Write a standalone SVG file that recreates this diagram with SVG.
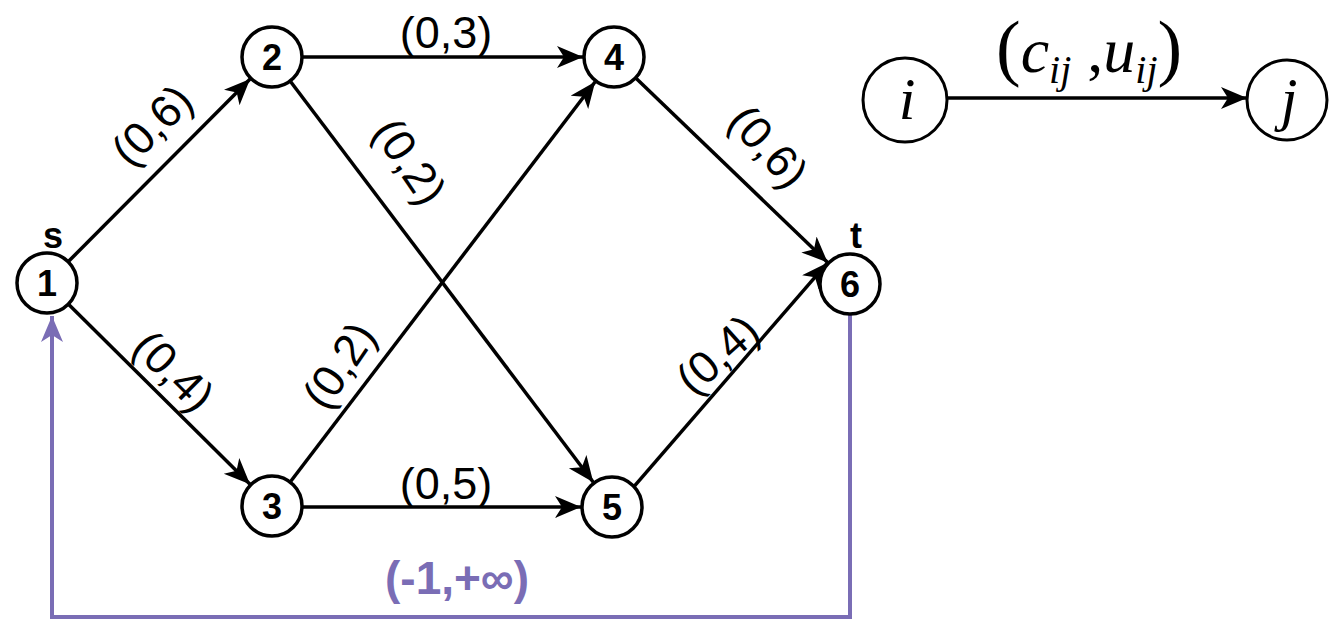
<svg xmlns="http://www.w3.org/2000/svg" width="1336" height="624" viewBox="0 0 1336 624">
<style>
.nd{fill:#fff;stroke:#000;stroke-width:3.5}
.num{font-family:"Liberation Sans",Arial,sans-serif;font-weight:bold;font-size:36px;text-anchor:middle}
.lbl{font-family:"Liberation Sans",Arial,sans-serif;font-size:45px;text-anchor:middle}
.ed{fill:none;stroke:#000;stroke-width:3.5}
.it{font-family:"Liberation Serif","Times New Roman",serif;font-style:italic}
</style>
<defs>
<marker id="ah" markerUnits="userSpaceOnUse" markerWidth="28" markerHeight="24" refX="26" refY="11" orient="auto" viewBox="0 0 28 24">
<path d="M0,0 L26,11 L0,22 L7,11 Z" fill="#000"/>
</marker>
<marker id="ahp" markerUnits="userSpaceOnUse" markerWidth="28" markerHeight="24" refX="26" refY="11" orient="auto" viewBox="0 0 28 24">
<path d="M0,0 L26,11 L0,22 L7,11 Z" fill="#7a6db5"/>
</marker>
</defs>
<rect width="1336" height="624" fill="#fff"/>
<g id="connectors">
<line class="ed" x1="68.9" y1="261" x2="250.1" y2="79" marker-end="url(#ah)"/>
<line class="ed" x1="69" y1="304.8" x2="250" y2="484.2" marker-end="url(#ah)"/>
<line class="ed" x1="303" y1="57" x2="583" y2="57" marker-end="url(#ah)"/>
<line class="ed" x1="290.7" y1="81.7" x2="593.3" y2="482.3" marker-end="url(#ah)"/>
<line class="ed" x1="290.8" y1="481.3" x2="595.2" y2="81.7" marker-end="url(#ah)"/>
<line class="ed" x1="303" y1="507" x2="581" y2="507" marker-end="url(#ah)"/>
<line class="ed" x1="636.3" y1="78.5" x2="827.7" y2="262.5" marker-end="url(#ah)"/>
<line class="ed" x1="634.6" y1="485.8" x2="827.4" y2="262.8" marker-end="url(#ah)"/>
<path d="M850,315 V617 H52 V316" fill="none" stroke="#7a6db5" stroke-width="4" marker-end="url(#ahp)"/>
<line class="ed" x1="947" y1="98" x2="1247" y2="98" marker-end="url(#ah)"/>
<text class="lbl" transform="translate(163,136) rotate(-45)">(0,6)</text>
<text class="lbl" transform="translate(163,382) rotate(45)">(0,4)</text>
<text class="lbl" x="446" y="48">(0,3)</text>
<text class="lbl" transform="translate(397,170) rotate(56)">(0,2)</text>
<text class="lbl" transform="translate(352,374) rotate(-56)">(0,2)</text>
<text class="lbl" x="446" y="499">(0,5)</text>
<text class="lbl" transform="translate(757,157) rotate(48)">(0,6)</text>
<text class="lbl" transform="translate(728,366) rotate(-42)">(0,4)</text>
<text x="457" y="594" font-family="Liberation Sans,Arial,sans-serif" font-weight="bold" font-size="46" fill="#7a6db5" text-anchor="middle">(-1,+∞)</text>
<text x="996" y="72" font-family="Liberation Serif,Times New Roman,serif" font-size="64"><tspan font-size="74">(</tspan><tspan class="it">c</tspan><tspan class="it" font-size="40" dy="11">ij</tspan><tspan dy="-11"> ,</tspan><tspan class="it">u</tspan><tspan class="it" font-size="40" dy="11">ij</tspan><tspan dy="-11" font-size="74">)</tspan></text>
</g>
<g id="n1"><circle class="nd" cx="47" cy="283" r="30"/><text class="num" x="47" y="296">1</text><text class="num" x="53" y="248">s</text></g>
<g id="n2"><circle class="nd" cx="272" cy="57" r="30"/><text class="num" x="272" y="70">2</text></g>
<g id="n3"><circle class="nd" cx="272" cy="506" r="30"/><text class="num" x="272" y="519">3</text></g>
<g id="n4"><circle class="nd" cx="614" cy="57" r="30"/><text class="num" x="614" y="70">4</text></g>
<g id="n5"><circle class="nd" cx="612" cy="507" r="30"/><text class="num" x="612" y="520">5</text></g>
<g id="n6"><circle class="nd" cx="850" cy="284" r="30"/><text class="num" x="850" y="297">6</text><text class="num" x="856" y="248">t</text></g>
<g id="ni"><circle cx="905" cy="100" r="42" fill="#fff" stroke="#000" stroke-width="3"/><text class="it" x="907" y="119" font-size="60" text-anchor="middle">i</text></g>
<g id="nj"><circle cx="1287" cy="100" r="40" fill="#fff" stroke="#000" stroke-width="3"/><text class="it" x="1289" y="119" font-size="60" text-anchor="middle">j</text></g>
</svg>
